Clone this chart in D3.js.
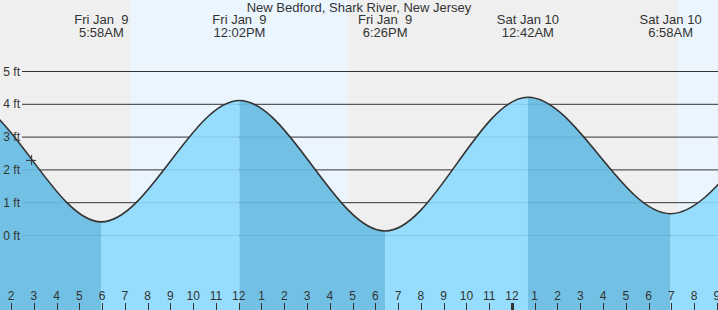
<!DOCTYPE html>
<html>
<head>
<meta charset="utf-8">
<script src="https://cdn.jsdelivr.net/npm/d3@7"></script>
<style>
  body { margin: 0; background: #efefef; }
  svg { display: block; font-family: "Liberation Sans", Arial, sans-serif; }
</style>
</head>
<body>
<div id="chart"></div>
<script>
// tide extremes (the outer ones lie outside the visible window)
const tideTimes = ["2026-01-08T17:40", "2026-01-08T23:55", "2026-01-09T05:58", "2026-01-09T12:02",
                   "2026-01-09T18:26", "2026-01-10T00:42", "2026-01-10T06:58", "2026-01-10T13:10",
                   "2026-01-10T19:20"];
const tideHeights = [0.30, 4.15, 0.40, 4.10, 0.12, 4.20, 0.65, 4.00, 0.50];
const eventDays = ["Fri Jan  9", "Fri Jan  9", "Fri Jan  9", "Sat Jan 10", "Sat Jan 10"];
const eventHours = ["5:58AM", "12:02PM", "6:26PM", "12:42AM", "6:58AM"];
const sunTimes = ["2026-01-09T07:16", "2026-01-09T16:48", "2026-01-10T07:17"];
const yTicks = [0, 1, 2, 3, 4, 5];
const nowTime = "2026-01-09T02:53";
const nowHeight = 2.29;
const title = "New Bedford, Shark River, New Jersey";

const width = 718, height = 310;
const parse = d3.utcParse("%Y-%m-%dT%H:%M");
const start = parse("2026-01-09T01:31"), end = parse("2026-01-10T09:03");

const x = d3.scaleUtc().domain([start, end]).range([0, width]);
const y = d3.scaleLinear().domain([0, 5]).range([235, 71]);

const tides = tideTimes.map((t, i) => ({ t: parse(t), h: tideHeights[i] }));

const svg = d3.select('#chart').append('svg')
  .attr('width', width).attr('height', height);

// night / day background
const sun = sunTimes.map(parse);
const bounds = [start, ...sun, end];
for (let i = 0; i < bounds.length - 1; i++) {
  svg.append('rect')
    .attr('x', x(bounds[i])).attr('y', 0)
    .attr('width', x(bounds[i + 1]) - x(bounds[i])).attr('height', height)
    .attr('fill', i % 2 === 0 ? '#efefef' : '#ebf5fe');
}

// grid lines
svg.append('g').selectAll('line').data(yTicks).enter().append('line')
  .attr('x1', 22).attr('x2', width)
  .attr('y1', d => y(d) + 0.5).attr('y2', d => y(d) + 0.5)
  .attr('stroke', '#333').attr('stroke-width', 1);

// water
const area = d3.area()
  .x(d => x(d.t)).y0(height).y1(d => y(d.h))
  .curve(d3.curveMonotoneX);
const line = d3.line()
  .x(d => x(d.t)).y(d => y(d.h))
  .curve(d3.curveMonotoneX);

svg.append('clipPath').attr('id', 'water')
  .append('path').attr('d', area(tides));

const water = svg.append('g').attr('clip-path', 'url(#water)');
for (let i = 0; i < tides.length - 1; i++) {
  const falling = tides[i + 1].h < tides[i].h;
  water.append('rect')
    .attr('x', x(tides[i].t)).attr('y', 0)
    .attr('width', x(tides[i + 1].t) - x(tides[i].t)).attr('height', height)
    .attr('fill', falling ? '#72c0e4' : '#96dcfc');
}
water.selectAll('line.under').data(yTicks).enter().append('line')
  .attr('x1', 22).attr('x2', width)
  .attr('y1', d => y(d) + 0.5).attr('y2', d => y(d) + 0.5)
  .attr('stroke', 'rgba(0,60,110,0.12)').attr('stroke-width', 1);

svg.append('g').selectAll('text').data(yTicks).enter().append('text')
  .attr('x', 20).attr('y', d => y(d) + 4.5)
  .attr('text-anchor', 'end')
  .attr('font-size', 12).attr('fill', '#333')
  .text(d => d + ' ft');

svg.append('path')
  .attr('d', line(tides))
  .attr('fill', 'none').attr('stroke', '#333').attr('stroke-width', 1.6);

// current position marker
const nx = x(parse(nowTime)), ny = y(nowHeight);
svg.append('path')
  .attr('d', `M${nx - 5},${ny + 0.5}H${nx + 5}M${nx + 0.5},${ny - 5}V${ny + 5}`)
  .attr('stroke', '#333').attr('stroke-width', 1);

// hour ticks
const hours = x.ticks(d3.utcHour.every(1));
const hourFmt = d3.utcFormat('%-I');
svg.append('g').selectAll('line').data(hours).enter().append('line')
  .attr('x1', d => Math.round(x(d)) + 0.5).attr('x2', d => Math.round(x(d)) + 0.5)
  .attr('y1', 303).attr('y2', height)
  .attr('stroke', '#333')
  .attr('stroke-width', d => d.getUTCHours() === 0 ? 3 : 1);
svg.append('g').selectAll('text').data(hours).enter().append('text')
  .attr('x', d => x(d)).attr('y', 300)
  .attr('text-anchor', 'middle')
  .attr('font-size', 12).attr('fill', '#333')
  .text(d => hourFmt(d));

// high / low labels
const events = tides.slice(2, 7);
const labels = svg.append('g').attr('font-size', 13).attr('fill', '#333')
  .attr('text-anchor', 'middle');
events.forEach((d, i) => {
  labels.append('text').attr('x', x(d.t)).attr('y', 24)
    .text(eventDays[i].replace(/ /g, '\u00a0'));
  labels.append('text').attr('x', x(d.t)).attr('y', 37).text(eventHours[i]);
});

svg.append('text')
  .attr('x', 359).attr('y', 12)
  .attr('text-anchor', 'middle')
  .attr('font-size', 13).attr('fill', '#333')
  .text(title);
</script>
</body>
</html>
